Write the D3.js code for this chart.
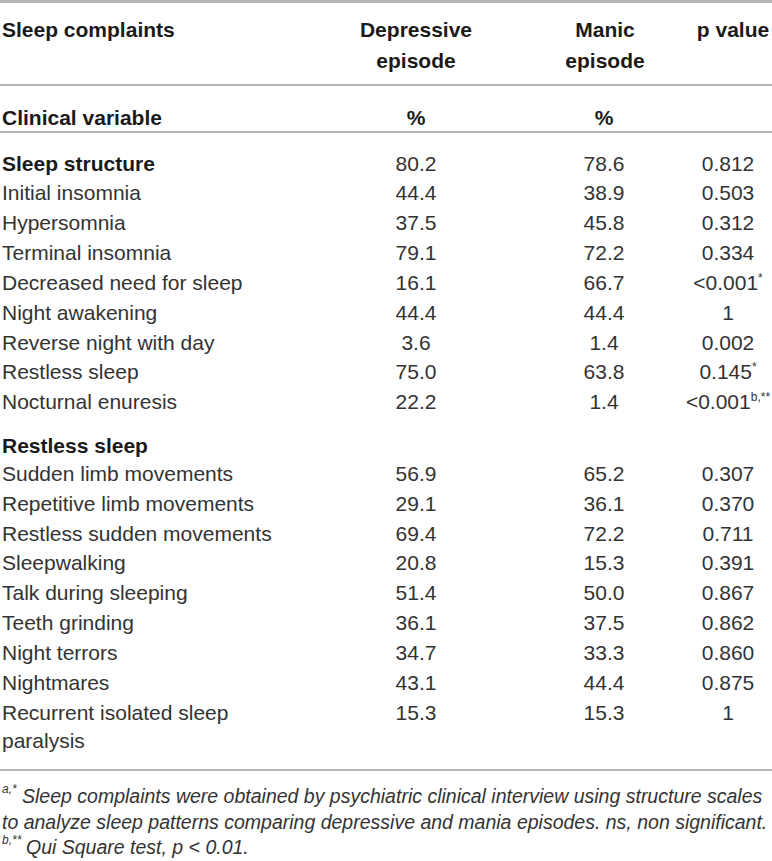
<!DOCTYPE html>
<html>
<head>
<meta charset="utf-8">
<script src="https://cdn.jsdelivr.net/npm/d3@7"></script>
<style>
  html, body { margin: 0; padding: 0; background: #fff; }
  svg { display: block; }
  text { font-family: "Liberation Sans", Arial, Helvetica, sans-serif; }
</style>
</head>
<body>
<div id="chart"></div>
<script>
// ---- data ----
const headerCols = [["Depressive", "episode"], ["Manic", "episode"], ["p value"]];
const unitRow = ["Clinical variable", "%", "%", ""];
const sectionTitles = ["Sleep structure", "Restless sleep"];
const sectionDep = ["80.2", ""];
const sectionMan = ["78.6", ""];
const sectionP = ["0.812", ""];

const structureItems = ["Initial insomnia", "Hypersomnia", "Terminal insomnia", "Decreased need for sleep",
  "Night awakening", "Reverse night with day", "Restless sleep", "Nocturnal enuresis"];
const structureDep = ["44.4", "37.5", "79.1", "16.1", "44.4", "3.6", "75.0", "22.2"];
const structureMan = ["38.9", "45.8", "72.2", "66.7", "44.4", "1.4", "63.8", "1.4"];
const structureP = ["0.503", "0.312", "0.334", "<0.001", "1", "0.002", "0.145", "<0.001"];
const structureSup = ["", "", "", "*", "", "", "*", "b,**"];

const restlessItems = ["Sudden limb movements", "Repetitive limb movements", "Restless sudden movements",
  "Sleepwalking", "Talk during sleeping", "Teeth grinding", "Night terrors", "Nightmares",
  ["Recurrent isolated sleep", "paralysis"]];
const restlessDep = ["56.9", "29.1", "69.4", "20.8", "51.4", "36.1", "34.7", "43.1", "15.3"];
const restlessMan = ["65.2", "36.1", "72.2", "15.3", "50.0", "37.5", "33.3", "44.4", "15.3"];
const restlessP = ["0.307", "0.370", "0.711", "0.391", "0.867", "0.862", "0.860", "0.875", "1"];
const restlessSup = ["", "", "", "", "", "", "", "", ""];

const footnoteSups = ["a,*", "", "b,**"];
const footnoteTexts = [
  "Sleep complaints were obtained by psychiatric clinical interview using structure scales",
  "to analyze sleep patterns comparing depressive and mania episodes. ns, non significant.",
  "Qui Square test, p < 0.01."
];

// ---- layout ----
const W = 772, H = 861;
const FS = 21;
const svg = d3.select("#chart").append("svg").attr("width", W).attr("height", H);

const colX = d3.scaleOrdinal().domain(["label", "dep", "man", "p"]).range([2, 416, 604, 728]);
const headerX = d3.scaleOrdinal().domain([0, 1, 2]).range([416, 605, 733]);
// row slots -> y (visual centre of text)
const rowY = d3.scaleLinear().domain([0, 18.4]).range([163, 712]);
const slotSection = [0, 9.45];
const slotStructure = d3.range(8).map(i => 1 + i);
const slotRestless = d3.range(9).map(i => 10.4 + i);
const wrapGap = 28;

const regular = "#333", bold = "#1a1a1a";

function txt(x, y, s, opts = {}) {
  return svg.append("text")
    .attr("x", x).attr("y", y).attr("dy", "0.36em")
    .attr("font-size", opts.size || FS)
    .attr("font-weight", opts.bold ? "bold" : "normal")
    .attr("fill", opts.bold ? bold : regular)
    .attr("text-anchor", opts.anchor || "start")
    .text(s);
}

// rules
svg.append("line").attr("x1", 0).attr("x2", W).attr("y1", 1.5).attr("y2", 1.5)
  .attr("stroke", "#b4b4b4").attr("stroke-width", 3);
[85, 132, 770].forEach(y => {
  svg.append("line").attr("x1", 0).attr("x2", W).attr("y1", y).attr("y2", y)
    .attr("stroke", "#9a9a9a").attr("stroke-width", 1.3);
});

// header
txt(colX("label"), 29, "Sleep complaints", { bold: true });
headerCols.forEach((lines, i) => {
  lines.forEach((l, j) => txt(headerX(i), 29 + j * 31, l, { bold: true, anchor: "middle" }));
});
txt(colX("label"), 117, unitRow[0], { bold: true });
txt(colX("dep"), 117, unitRow[1], { bold: true, anchor: "middle" });
txt(colX("man"), 117, unitRow[2], { bold: true, anchor: "middle" });

function pCell(y, val, sup) {
  const t = txt(colX("p"), y, "", { anchor: "middle" });
  t.append("tspan").text(val);
  if (sup) {
    t.append("tspan").attr("font-size", 12).attr("dy", -8).text(sup);
  }
}

// section titles
sectionTitles.forEach((s, i) => {
  const y = rowY(slotSection[i]);
  txt(colX("label"), y, s, { bold: true });
  if (sectionDep[i]) txt(colX("dep"), y, sectionDep[i], { anchor: "middle" });
  if (sectionMan[i]) txt(colX("man"), y, sectionMan[i], { anchor: "middle" });
  if (sectionP[i]) pCell(y, sectionP[i], "");
});

function drawItems(items, dep, man, p, sup, slots) {
  items.forEach((lab, i) => {
    const y = rowY(slots[i]);
    const lines = Array.isArray(lab) ? lab : [lab];
    lines.forEach((l, j) => txt(colX("label"), y + j * wrapGap, l));
    txt(colX("dep"), y, dep[i], { anchor: "middle" });
    txt(colX("man"), y, man[i], { anchor: "middle" });
    pCell(y, p[i], sup[i]);
  });
}
drawItems(structureItems, structureDep, structureMan, structureP, structureSup, slotStructure);
drawItems(restlessItems, restlessDep, restlessMan, restlessP, restlessSup, slotRestless);

// footnotes (italic, sized so the long lines span the table width)
const fnY = [796, 822, 847];
const fnStart = [22, 2, 26];
const fnEnd = [768, 768, 273];
const fnNodes = footnoteTexts.map((s, i) =>
  svg.append("text").attr("x", fnStart[i]).attr("y", fnY[i]).attr("dy", "0.36em")
    .attr("font-size", 21).attr("font-style", "italic").attr("fill", regular)
    .text(s));
// common font size fitted to the two full-width lines
const fit = d3.min([0, 1], i => 21 * (fnEnd[i] - fnStart[i]) / fnNodes[i].node().getComputedTextLength());
const fnSize = Math.min(21, fit);
fnNodes.forEach(n => n.attr("font-size", fnSize));
footnoteSups.forEach((s, i) => {
  if (!s) return;
  svg.append("text").attr("x", 2).attr("y", fnY[i] - 7).attr("dy", "0.36em")
    .attr("font-size", 12).attr("font-style", "italic").attr("fill", regular)
    .text(s);
});
</script>
</body>
</html>
